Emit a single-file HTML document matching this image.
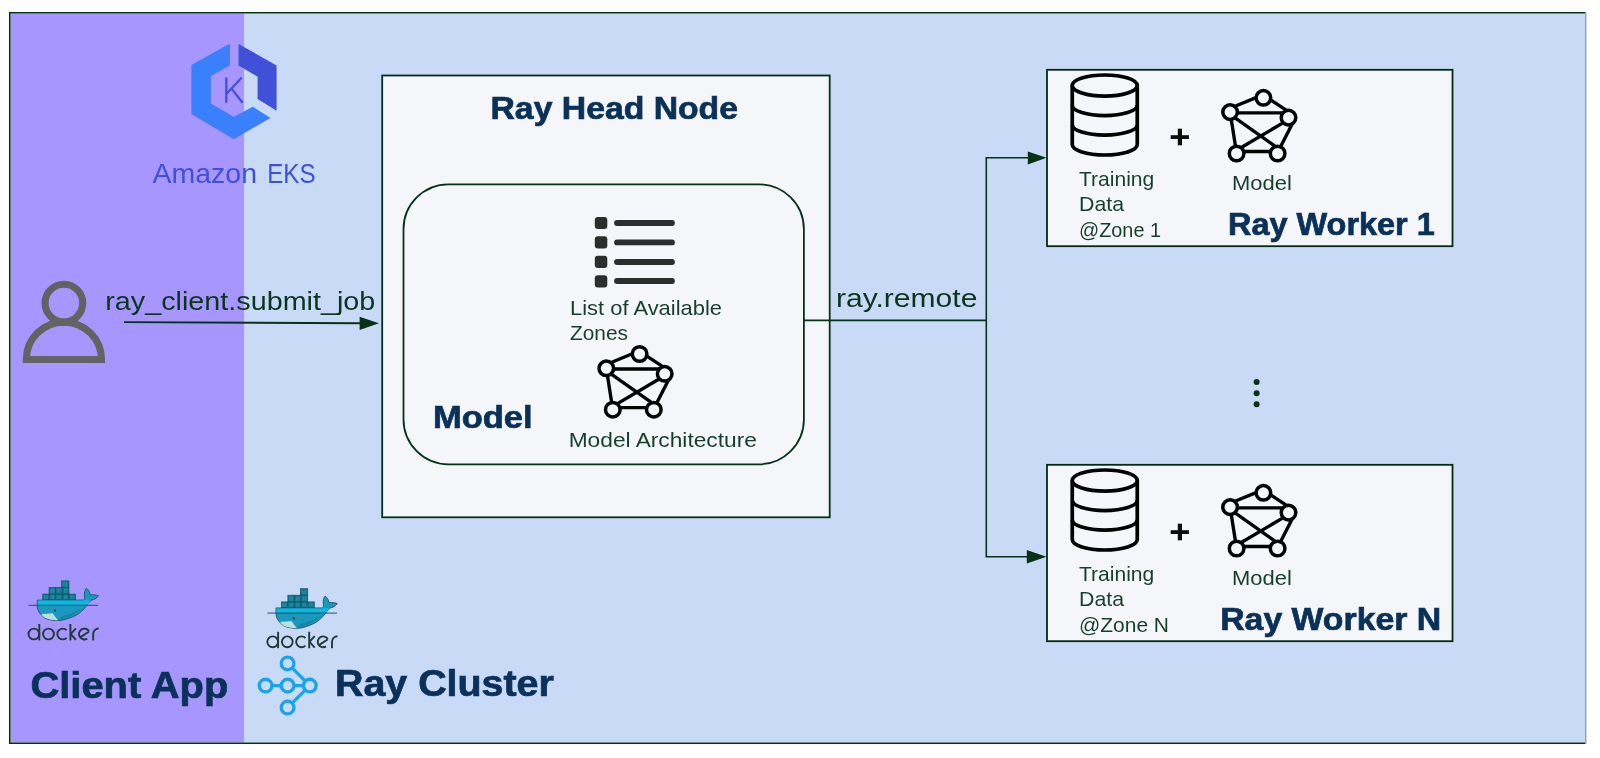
<!DOCTYPE html>
<html><head><meta charset="utf-8">
<style>
html,body{margin:0;padding:0;background:#fff;width:1600px;height:758px;overflow:hidden}
svg{position:absolute;left:0;top:0;display:block;will-change:transform}
text{font-family:"Liberation Sans",sans-serif}
.g{fill:#143f2b}
.nv{fill:#0a3159;font-weight:bold;stroke:#0a3159;stroke-width:0.7}
</style></head><body>
<svg width="1600" height="758" viewBox="0 0 1600 758">
<defs>
  <g id="net">
    <g stroke="#000" stroke-width="3.35" fill="none" stroke-linecap="butt">
      <line x1="0" y1="-3.85" x2="33.3" y2="-17.5"/>
      <line x1="33.3" y1="-16.9" x2="58.4" y2="-0.4"/>
      <line x1="0" y1="0.7" x2="58.4" y2="0.7"/>
      <line x1="0" y1="0" x2="6.5" y2="41.4"/>
      <line x1="65.4" y1="5.5" x2="47" y2="41.4"/>
      <line x1="6.5" y1="39.4" x2="47.5" y2="39.4"/>
      <line x1="0" y1="2.3" x2="47.5" y2="35.9"/>
      <line x1="58.4" y1="7.5" x2="6.5" y2="38.1"/>
    </g>
    <g stroke="#000" stroke-width="3.5" fill="#f4f6f9">
      <circle cx="0" cy="0" r="7.3"/>
      <circle cx="33.3" cy="-14.3" r="7.3"/>
      <circle cx="58.4" cy="5.5" r="7.3"/>
      <circle cx="6.5" cy="41.4" r="7.3"/>
      <circle cx="47.5" cy="41.4" r="7.3"/>
    </g>
  </g>
  <g id="db" fill="none" stroke="#000" stroke-width="3.7">
    <ellipse cx="1104.75" cy="85.6" rx="32.5" ry="10.6"/>
    <path d="M1072.25,85.6 V144.6 A32.5,10.4 0 0 0 1137.25,144.6 V85.6"/>
    <path d="M1072.25,105.2 A32.5,10.4 0 0 0 1137.25,105.2"/>
    <path d="M1072.25,124.7 A32.5,10.4 0 0 0 1137.25,124.7"/>
  </g>
  <g id="docker">
    <g fill="#15788f" stroke="#0d4f5f" stroke-width="0.7">
      <rect x="61.6" y="580.9" width="7.3" height="6.5"/>
      <rect x="49.1" y="587.4" width="6.6" height="6.7"/>
      <rect x="55.7" y="587.4" width="6.6" height="6.7"/>
      <rect x="62.3" y="587.4" width="6.6" height="6.7"/>
      <rect x="42.8" y="594.1" width="6.3" height="6"/>
      <rect x="49.1" y="594.1" width="6.6" height="6"/>
      <rect x="55.7" y="594.1" width="6.6" height="6"/>
      <rect x="62.3" y="594.1" width="6.6" height="6"/>
      <rect x="68.9" y="594.1" width="6.6" height="6"/>
    </g>
    <g stroke="#2aa9c6" stroke-width="0.55"><path d="M64.01,582.1V586.4"/><path d="M66.42,582.1V586.4"/><path d="M51.28,588.6V593.1"/><path d="M53.46,588.6V593.1"/><path d="M57.88,588.6V593.1"/><path d="M60.06,588.6V593.1"/><path d="M64.48,588.6V593.1"/><path d="M66.66,588.6V593.1"/><path d="M44.88,595.3000000000001V599.1"/><path d="M46.96,595.3000000000001V599.1"/><path d="M51.28,595.3000000000001V599.1"/><path d="M53.46,595.3000000000001V599.1"/><path d="M57.88,595.3000000000001V599.1"/><path d="M60.06,595.3000000000001V599.1"/><path d="M64.48,595.3000000000001V599.1"/><path d="M66.66,595.3000000000001V599.1"/><path d="M71.08,595.3000000000001V599.1"/><path d="M73.26,595.3000000000001V599.1"/></g>
    <path d="M37.2,600.1 L83.5,600.1 C84.5,599.5 84.8,598.5 84.6,597 C84,593.5 84.6,590 86.3,588.2 C88.5,590 90,592.5 90.3,594.8 C93,594.6 96,594.8 98.5,595.8 C96.5,598.5 93.8,600 91,600.2 C90,601.8 89,603 87.7,604 C84,610 78,615 71.2,617.4 C66.5,619.4 62,620.5 58,620.5 C52,620.5 47.5,619.5 44.8,617.9 C40,614.5 37.2,610 37.2,606 Z" fill="#1b98be" stroke="#1d4656" stroke-width="0.8"/>
    <path d="M37.6,600.6 L83.2,600.6 C86,600 89,600.3 90.6,600.4 C89.6,602.2 88.6,603.8 87.3,605.3 L37.6,605.3 Z" fill="#0cb8e2"/>
    <path d="M58,620.3 C66,619.5 76,614 84,607 C78,611 70,614.5 62,616 Z" fill="#1384a8"/>
    <path d="M41.5,613.9 C45,614 49,613.6 52.7,613.3 C54.5,616 56.5,618.5 58,620.3 C52,620.3 47,619 44.5,617.6 C43,616.5 42,615.3 41.5,613.9 Z" fill="#b5e3dc"/>
    <path d="M28.6,605.3 H98.2" stroke="#1e4350" stroke-width="0.9"/>
    <circle cx="55" cy="610.6" r="1.1" fill="#1a3440"/>
    <g fill="none" stroke="#1f3a38" stroke-width="1.9" stroke-linecap="butt">
      <circle cx="33.9" cy="634" r="5.4"/>
      <path d="M39.3,624 V640.4"/>
      <circle cx="48.5" cy="634" r="5.4"/>
      <path d="M66.6,630.2 A5.4,5.4 0 1 0 66.6,637.8"/>
      <path d="M70.4,624 V640.4 M75.9,628.4 L70.7,634 L75.9,639.8"/>
      <path d="M89,631.3 A5.4,5.4 0 1 0 87.2,638.6 M79.8,637.6 L89.1,631.5"/>
      <path d="M93.2,640.4 V634 A5.5,5.5 0 0 1 98.7,628.5"/>
    </g>
  </g>
</defs>

<!-- backgrounds -->
<rect x="10.5" y="13.5" width="234" height="729" fill="#a796fd"/>
<rect x="244.5" y="13.5" width="1341.5" height="729" fill="#c9daf7"/>
<path d="M1586,12.75 H9.75 V743.2 H1586" fill="none" stroke="#053318" stroke-width="1.6"/>
<rect x="1585" y="12" width="1.4" height="732" fill="#8e9eb6"/>

<!-- EKS logo -->
<path d="M229.9,43.5 L191.4,65.1 L191.4,113.9 L233.8,139.2 L270.5,117.9 L252.8,106.8 L233.8,117.1 L210.9,103.6 L210.9,75.9 L229.9,65.6 Z" fill="#3a7ffb"/>
<path d="M238.6,43.9 L276.6,65.6 L276.6,110.7 L257.6,98.9 L257.6,76.7 L238.6,65.6 Z" fill="#4051d7"/>
<path d="M226.3,77.5 V102.8 M226.8,93.5 L241.8,77.5 M231.3,88.4 L242.6,102.8" stroke="#4051d7" stroke-width="2.3" fill="none"/>
<text x="152.5" y="182.7" font-size="28.3" fill="#3f50d8" textLength="104.5" lengthAdjust="spacingAndGlyphs">Amazon</text><text x="267.2" y="182.7" font-size="28.3" fill="#3f50d8" textLength="48.3" lengthAdjust="spacingAndGlyphs">EKS</text>

<!-- user icon -->
<circle cx="63.9" cy="303.1" r="18.85" fill="none" stroke="#626262" stroke-width="7.1"/>
<path d="M26.3,359.5 A37.6,37.4 0 0 1 101.5,359.5 Z" fill="none" stroke="#636363" stroke-width="7.1" stroke-linejoin="miter"/>

<text class="g" style="fill:#0a3620" x="105.3" y="310" font-size="25.5" textLength="270" lengthAdjust="spacingAndGlyphs">ray_client.submit_job</text>
<line x1="124" y1="322.1" x2="362" y2="323.2" stroke="#053318" stroke-width="1.9"/>
<polygon points="359.6,316.8 379,323.2 359.6,329.9" fill="#053318"/>

<!-- Head node -->
<rect x="382.2" y="75.5" width="447.5" height="441.8" fill="#f4f6f9" stroke="#053318" stroke-width="1.8"/>
<text class="nv" x="490.5" y="118.9" font-size="31.3" textLength="247.5" lengthAdjust="spacingAndGlyphs">Ray Head Node</text>
<rect x="403.5" y="184.3" width="400.4" height="280" rx="45" ry="45" fill="none" stroke="#053318" stroke-width="1.8"/>
<!-- list icon -->
<g fill="#2d2d2d">
  <rect x="594.8" y="216.9" width="12.5" height="12.2" rx="3"/>
  <rect x="594.8" y="236.3" width="12.5" height="12.2" rx="3"/>
  <rect x="594.8" y="255.8" width="12.5" height="12.2" rx="3"/>
  <rect x="594.8" y="275.2" width="12.5" height="12.2" rx="3"/>
</g>
<g stroke="#2d2d2d" stroke-width="5.8" stroke-linecap="round">
  <line x1="617" y1="223" x2="672" y2="223"/>
  <line x1="617" y1="242.4" x2="672" y2="242.4"/>
  <line x1="617" y1="262" x2="672" y2="262"/>
  <line x1="617" y1="281" x2="672" y2="281"/>
</g>
<text class="g" x="570" y="315.2" font-size="21" textLength="152" lengthAdjust="spacingAndGlyphs">List of Available</text>
<text class="g" x="570" y="339.7" font-size="21" textLength="58" lengthAdjust="spacingAndGlyphs">Zones</text>
<use href="#net" x="606.3" y="368.3"/>
<text class="nv" x="433" y="427.7" font-size="31.5" textLength="99.6" lengthAdjust="spacingAndGlyphs">Model</text>
<text class="g" x="568.7" y="447.3" font-size="21" textLength="188.2" lengthAdjust="spacingAndGlyphs">Model Architecture</text>

<!-- connectors -->
<g stroke="#053318" stroke-width="1.6" fill="none">
  <polyline points="803.9,320.4 986.3,320.4"/>
  <polyline points="1030,157.7 986.3,157.7 986.3,556.8 1028,556.8" stroke-linejoin="miter"/>
</g>
<polygon points="1027.8,151.4 1046.5,157.7 1027.8,164.4" fill="#053318"/>
<polygon points="1026.8,550.1 1046.5,556.8 1026.8,563.5" fill="#053318"/>
<text class="g" style="fill:#0a3620" x="836" y="307.4" font-size="25.5" textLength="141.4" lengthAdjust="spacingAndGlyphs">ray.remote</text>
<g fill="#053318">
  <circle cx="1256.6" cy="382.1" r="3"/>
  <circle cx="1256.6" cy="393.2" r="3"/>
  <circle cx="1256.6" cy="404.3" r="3"/>
</g>

<!-- Worker 1 -->
<rect x="1047" y="69.8" width="405.5" height="176.4" fill="#f4f6f9" stroke="#042a14" stroke-width="1.8"/>
<use href="#db"/>
<g fill="#0d0d0d">
  <rect x="1170.7" y="135.2" width="18.2" height="3.8"/>
  <rect x="1177.8" y="128.7" width="4.2" height="16.6"/>
</g>
<use href="#net" x="1230.1" y="112.1"/>
<text class="g" x="1079" y="186" font-size="21" textLength="75.3" lengthAdjust="spacingAndGlyphs">Training</text>
<text class="g" x="1079" y="210.7" font-size="21" textLength="45" lengthAdjust="spacingAndGlyphs">Data</text>
<text class="g" x="1079" y="237" font-size="21" textLength="82" lengthAdjust="spacingAndGlyphs">@Zone 1</text>
<text class="g" x="1232" y="190" font-size="21" textLength="59.8" lengthAdjust="spacingAndGlyphs">Model</text>
<text class="nv" x="1228" y="235" font-size="31.3" textLength="206.8" lengthAdjust="spacingAndGlyphs">Ray Worker 1</text>

<!-- Worker N -->
<rect x="1047" y="464.8" width="405.5" height="176.4" fill="#f4f6f9" stroke="#042a14" stroke-width="1.8"/>
<use href="#db" y="395"/>
<g fill="#0d0d0d">
  <rect x="1170.7" y="530.2" width="18.2" height="3.8"/>
  <rect x="1177.8" y="523.7" width="4.2" height="16.6"/>
</g>
<use href="#net" x="1230.1" y="507.1"/>
<text class="g" x="1079" y="581" font-size="21" textLength="75.3" lengthAdjust="spacingAndGlyphs">Training</text>
<text class="g" x="1079" y="605.7" font-size="21" textLength="45" lengthAdjust="spacingAndGlyphs">Data</text>
<text class="g" x="1079" y="632" font-size="21" textLength="90" lengthAdjust="spacingAndGlyphs">@Zone N</text>
<text class="g" x="1232" y="585" font-size="21" textLength="59.8" lengthAdjust="spacingAndGlyphs">Model</text>
<text class="nv" x="1220.2" y="630" font-size="31.3" textLength="221" lengthAdjust="spacingAndGlyphs">Ray Worker N</text>

<!-- docker logos -->
<use href="#docker"/>
<use href="#docker" x="238.8" y="7.8"/>

<!-- bottom labels -->
<text class="nv" x="30.5" y="698" font-size="36" textLength="197.8" lengthAdjust="spacingAndGlyphs">Client App</text>
<text class="nv" x="335" y="696.4" font-size="36" textLength="218.8" lengthAdjust="spacingAndGlyphs">Ray Cluster</text>
<!-- ray logo -->
<g stroke="#1ba2ea" stroke-width="3.3" fill="none">
  <line x1="265.6" y1="685.6" x2="309.8" y2="685.6"/>
  <line x1="287.6" y1="663.4" x2="309.8" y2="685.6"/>
  <line x1="287.6" y1="707.6" x2="309.8" y2="685.6"/>
</g>
<g stroke="#1ba2ea" stroke-width="3.3" fill="#c9daf7">
  <circle cx="287.6" cy="663.4" r="6.35"/>
  <circle cx="265.6" cy="685.6" r="6.35"/>
  <circle cx="287.6" cy="685.6" r="6.35"/>
  <circle cx="309.8" cy="685.6" r="6.35"/>
  <circle cx="287.6" cy="707.6" r="6.35"/>
</g>
</svg>
</body></html>
